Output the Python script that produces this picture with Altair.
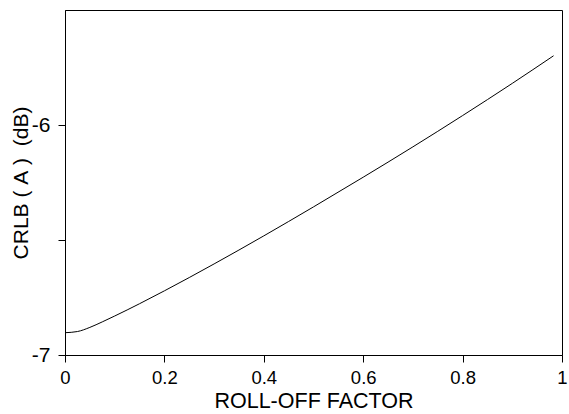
import altair as alt
import pandas as pd

roll_off = [0, 0.025, 0.05, 0.075, 0.1, 0.15, 0.2, 0.3, 0.4, 0.5, 0.6, 0.7, 0.8, 0.9, 0.983]
crlb = [-6.903, -6.898, -6.880, -6.856, -6.8305, -6.777, -6.721, -6.604, -6.482,
        -6.356, -6.227, -6.095, -5.959, -5.819, -5.699]

x_ticks = [0, 0.2, 0.4, 0.6, 0.8, 1]
y_ticks = [-7, -6.5, -6]

df = pd.DataFrame({"x": roll_off, "y": crlb})

font = "Liberation Sans"

chart = alt.Chart(df).mark_line(color="black", strokeWidth=1, interpolate="monotone").encode(
    x=alt.X("x:Q", scale=alt.Scale(domain=[0, 1], nice=False, zero=False),
            axis=alt.Axis(values=x_ticks, title="ROLL-OFF FACTOR",
                          labelExpr="toString(datum.value)", labelFlush=False,
                          labelFontSize=18.5, titleFontSize=21.5,
                          grid=False, tickSize=7, labelPadding=6, titlePadding=4)),
    y=alt.Y("y:Q", scale=alt.Scale(domain=[-7, -5.5], nice=False, zero=False),
            axis=alt.Axis(values=y_ticks, title="CRLB\u00a0(\u00a0A\u00a0)\u00a0\u00a0(dB)",
                          labelExpr="datum.value % 1 == 0 ? toString(datum.value) : ''",
                          labelFontSize=21, titleFontSize=21,
                          grid=False, tickSize=7, labelPadding=8, titlePadding=0)),
).properties(
    width=497, height=345,
    autosize=alt.AutoSizeParams(type="none"),
    padding={"left": 65, "top": 10, "right": 7, "bottom": 59},
).configure(
    background="white",
    view=alt.ViewConfig(stroke="black", strokeWidth=1),
    axis=alt.AxisConfig(
        domainColor="black", tickColor="black", labelColor="black", titleColor="black",
        labelFont=font, titleFont=font, titleFontWeight="normal", domainWidth=1, tickWidth=1,
    ),
)

chart.save("out.html", embed_options={"renderer": "svg", "actions": False})
